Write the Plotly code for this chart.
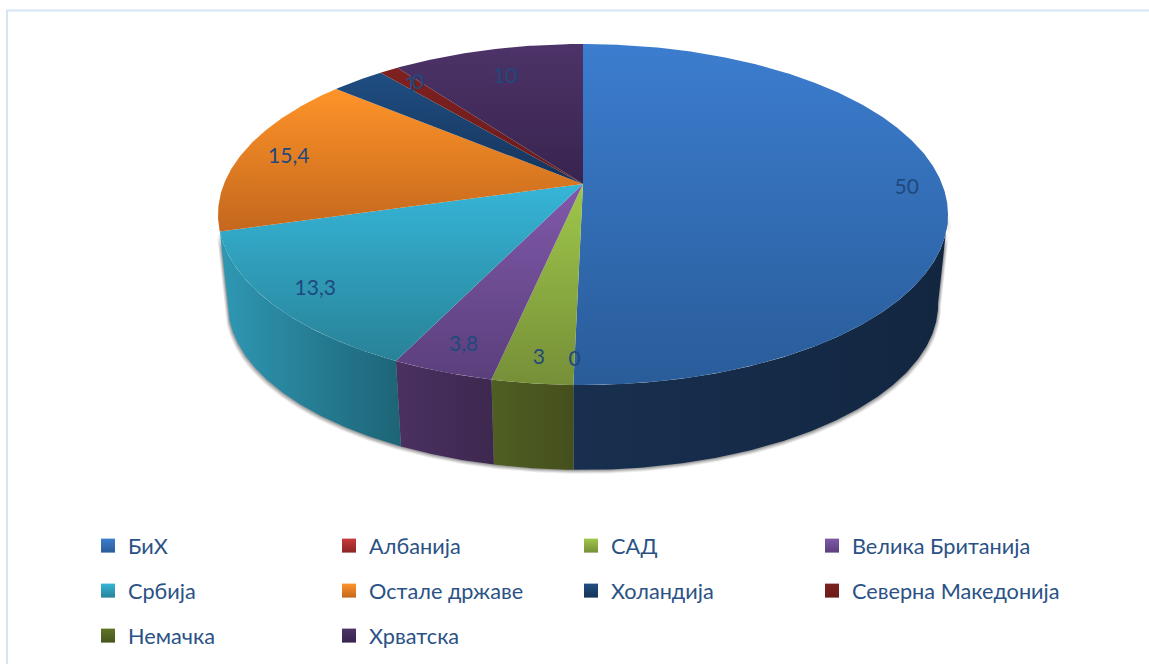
import numpy as np
import plotly.graph_objects as go

categories = ["БиХ", "Албанија", "САД", "Велика Британија", "Србија",
              "Остале државе", "Холандија", "Северна Македонија", "Немачка", "Хрватска"]
values = [50, 0, 3, 3.8, 13.3, 15.4, 2.8, 1, 0, 10]
labels = ["50", "0", "3", "3,8", "13,3", "15,4", "", "1", "0", "10"]
label_radius = [0.90, 0.885, 0.885, 0.87, 0.875, 0.865, 0.90, 0.875, 0.875, 0.79]
top_light = ["#3c7dcf", "#c73a3a", "#9fc74a", "#8059aa", "#36b5d8", "#fe9429", "#1f4e82", "#7e2120", "#5f7427", "#4d3368"]
top_dark = ["#295c99", "#8c2524", "#768f38", "#5b3f7c", "#288297", "#c4671d", "#16335a", "#6a1b1a", "#46551d", "#38244f"]
wall_left = ["#182f4f", "#7a1f1e", "#4f5f23", "#4a3161", "#2f98b4", "#b8651c", "#16335a", "#5a1716", "#3f4d1a", "#2f1f45"]
wall_right = ["#122640", "#5a1716", "#454f1d", "#3d284f", "#1d6476", "#9a5518", "#12294a", "#4a1212", "#34401a", "#281a3a"]
legend_cols = [0, 1, 2, 3, 0, 1, 2, 3, 0, 1]
legend_rows = [0, 0, 0, 0, 1, 1, 1, 1, 2, 2]
legend_col_px = [88, 329, 571, 812]
legend_row_px = [546, 591, 636]

# Perspective view of the pie: pixel geometry of the drawing
PIVOT_X, PIVOT_Y = 583.0, 184.0
A, C, K = 165.04, 359.1, -0.1789
TOP_CY, BOTTOM_CY, BOTTOM_SCALE = 214.5, 304.0, 0.973
WALL_FROM, WALL_TO = 100.0, 254.0  # right-hand silhouette angle .. start of the hidden back part
LABEL_DY = 3.0


def project(theta_deg, r=1.0):
    t = np.radians(theta_deg)
    u, v = r * np.sin(t), -r * np.cos(t)
    d = 1 + K * v
    return PIVOT_X + C * u / d, PIVOT_Y + A * v / d


def project_bottom(theta_deg):
    x, y = project(theta_deg)
    return PIVOT_X + BOTTOM_SCALE * (x - PIVOT_X), BOTTOM_CY + BOTTOM_SCALE * (y - TOP_CY)


def arc(a, b):
    n = max(2, int(abs(b - a) * 2) + 1)
    return np.linspace(a, b, n)


def wall_polygon(a, b, grow=0.0, drop=0.0):
    th = arc(a, b)
    x1, y1 = project(th)
    x2, y2 = project_bottom(th)
    px = np.concatenate([x1, x2[::-1], x1[:1]])
    py = np.concatenate([y1, y2[::-1], y1[:1]])
    return PIVOT_X + (px - PIVOT_X) * (1 + grow), py + drop


total = sum(values)
edges = np.concatenate([[0], np.cumsum(values)]) / total * 360.0

fig = go.Figure()

# soft shadow under the disc
for off, alpha in [(4.0, 0.07), (3.0, 0.10), (2.0, 0.12), (1.0, 0.15)]:
    sx, sy = wall_polygon(WALL_FROM, WALL_TO, grow=off / 500, drop=off)
    fig.add_trace(go.Scatter(x=sx, y=sy, mode="lines", line=dict(width=0), fill="toself",
                             fillcolor=f"rgba(0,0,0,{alpha})", hoverinfo="skip", showlegend=False))

# side walls
for i, name in enumerate(categories):
    a, b = max(edges[i], WALL_FROM), min(edges[i + 1], WALL_TO)
    if b <= a:
        continue
    wx, wy = wall_polygon(a, b)
    fig.add_trace(go.Scatter(
        x=wx, y=wy, mode="lines", line=dict(width=0), fill="toself",
        fillgradient=dict(type="horizontal", colorscale=[[0, wall_left[i]], [1, wall_right[i]]]),
        hoverinfo="skip", showlegend=False))

# top faces
for i, name in enumerate(categories):
    if values[i] <= 0:
        continue
    th = arc(edges[i], edges[i + 1])
    x, y = project(th)
    fig.add_trace(go.Scatter(
        x=np.concatenate([[PIVOT_X], x, [PIVOT_X]]), y=np.concatenate([[PIVOT_Y], y, [PIVOT_Y]]),
        mode="lines", line=dict(width=0), fill="toself",
        fillgradient=dict(type="vertical", colorscale=[[0, top_dark[i]], [1, top_light[i]]]),
        name=name, hoverinfo="name", showlegend=False))

# data labels
mids = (edges[:-1] + edges[1:]) / 2
lx, ly = zip(*[project(m, r) for m, r in zip(mids, label_radius)])
fig.add_trace(go.Scatter(x=list(lx), y=[v + LABEL_DY for v in ly], mode="text", text=labels,
                         textposition="middle center",
                         textfont=dict(family="Lato", size=21, color="#1f497d"),
                         hoverinfo="skip", showlegend=False))

# legend: one native legend per entry, so the grid spacing of the reference can be kept
layout_legends = {}
for i, name in enumerate(categories):
    lname = "legend" if i == 0 else f"legend{i + 1}"
    fig.add_trace(go.Scatter(x=[None], y=[None], mode="markers", name=name, legend=lname,
                             marker=dict(symbol="square", size=14, color=top_light[i],
                                         gradient=dict(type="vertical", color=top_dark[i]))))
    layout_legends[lname] = dict(
        orientation="h", x=legend_col_px[legend_cols[i]] / 1149, xanchor="left",
        y=1 - legend_row_px[legend_rows[i]] / 664, yanchor="middle",
        itemwidth=30, bgcolor="rgba(0,0,0,0)",
        font=dict(family="Lato", size=21.7, color="#2a5285"), itemclick=False, itemdoubleclick=False)

fig.update_layout(
    width=1149, height=664, margin=dict(l=0, r=0, t=0, b=0),
    paper_bgcolor="white", plot_bgcolor="white",
    xaxis=dict(range=[0, 1149], visible=False, fixedrange=True),
    yaxis=dict(range=[664, 0], visible=False, fixedrange=True),
    shapes=[dict(type="rect", xref="x", yref="y", x0=7, y0=10.5, x1=1160, y1=680,
                 line=dict(color="#d5e3f3", width=2), layer="below")],
    **layout_legends,
)
fig.write_html("out.html", config={"displayModeBar": False},
               post_script="document.body.style.margin='0';document.documentElement.style.overflow='hidden';")
